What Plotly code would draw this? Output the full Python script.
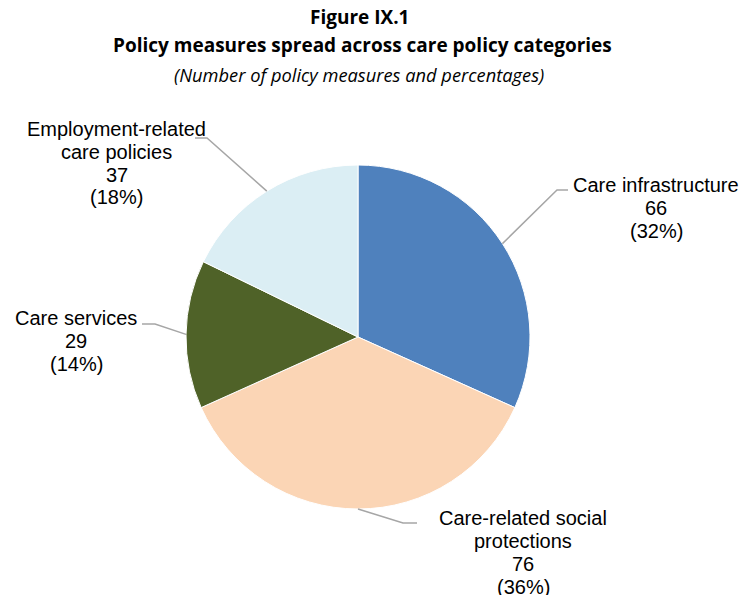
import math
import plotly.graph_objects as go

# Care policy categories and number of measures
categories = [["Care infrastructure"],
              ["Care-related social", "protections"],
              ["Care services"],
              ["Employment-related", "care policies"]]
counts = [66, 76, 29, 37]
percent_labels = ["32%", "36%", "14%", "18%"]
colors = ["#4F81BD", "#FBD5B5", "#4F6228", "#DBEEF4"]

W, H = 739, 595
cx, cy, r = 358, 337, 172  # pie centre and radius in pixels


def px(x):
    return x / W


def py(y):
    return 1 - y / H


fig = go.Figure(go.Pie(
    labels=[" ".join(c) for c in categories],
    values=counts,
    marker=dict(colors=colors, line=dict(color="white", width=1)),
    sort=False,
    direction="clockwise",
    rotation=0,
    textinfo="none",
    hoverinfo="label+value",
    showlegend=False,
    domain=dict(x=[px(cx - r), px(cx + r)], y=[py(cy + r), py(cy - r)]),
))

# label placement: centre x and first baseline of the text block,
# plus elbow and end point of the leader line
label_pos = [
    dict(x=656, y=192, elbow=(557, 190), end=(568, 190)),
    dict(x=523, y=525, elbow=(403, 523), end=(417, 523)),
    dict(x=76, y=325, elbow=(155, 324), end=(142, 324)),
    dict(x=117, y=136, elbow=(207, 138), end=(195, 138)),
]
LINE_GAP = 22.9
LABEL_SIZE = 20

total = sum(counts)
start = 0.0
annotations = []
shapes = []
for cat, n, pct, pos in zip(categories, counts, percent_labels, label_pos):
    mid = start + n / total * 180.0
    start += n / total * 360.0
    a = math.radians(mid)
    ex = cx + r * math.sin(a)
    ey = cy - r * math.cos(a)
    path = (f"M {px(ex)} {py(ey)} L {px(pos['elbow'][0])} {py(pos['elbow'][1])} "
            f"L {px(pos['end'][0])} {py(pos['end'][1])}")
    shapes.append(dict(type="path", path=path, xref="paper", yref="paper",
                       line=dict(color="#A6A6A6", width=1.5)))
    lines = cat + [str(n), f"({pct})"]
    for i, line in enumerate(lines):
        baseline = pos["y"] + i * LINE_GAP
        annotations.append(dict(
            text=line, x=px(pos["x"]), y=py(baseline - 0.36 * LABEL_SIZE),
            xref="paper", yref="paper", xanchor="center", yanchor="middle",
            showarrow=False, align="center",
            font=dict(family="Liberation Sans, Arial", size=LABEL_SIZE, color="black"),
        ))

title_font = "Open Sans, sans-serif"
annotations += [
    dict(text="<b>Figure IX.1</b>", x=px(359), y=py(16.5), xref="paper", yref="paper",
         xanchor="center", yanchor="middle", showarrow=False,
         font=dict(family=title_font, size=19, color="black")),
    dict(text="<b>Policy measures spread across care policy categories</b>",
         x=px(362), y=py(45.5), xref="paper", yref="paper",
         xanchor="center", yanchor="middle", showarrow=False,
         font=dict(family=title_font, size=19, color="black")),
    dict(text="<i>(Number of policy measures and percentages)</i>",
         x=px(359), y=py(74.5), xref="paper", yref="paper",
         xanchor="center", yanchor="middle", showarrow=False,
         font=dict(family=title_font, size=18.3, color="black")),
]

fig.update_layout(
    width=W, height=H,
    margin=dict(l=0, r=0, t=0, b=0),
    paper_bgcolor="white", plot_bgcolor="white",
    annotations=annotations, shapes=shapes,
)

fig.write_html("out.html")
